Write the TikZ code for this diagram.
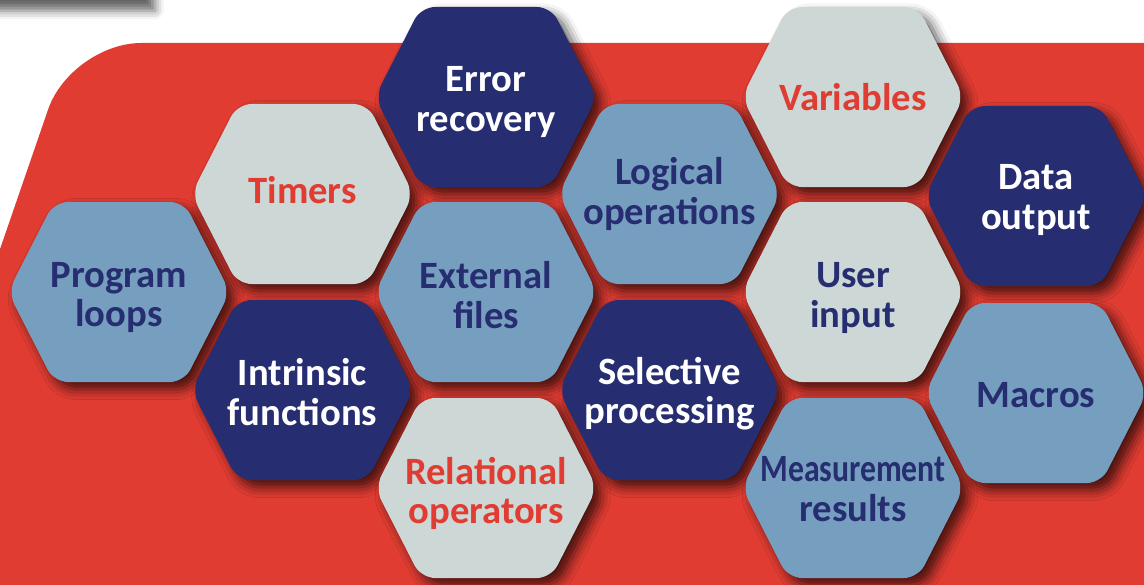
\documentclass[tikz,border=0pt]{standalone}
\usepackage{fontspec}
\setmainfont{Carlito}
\usepackage{graphicx}
\usetikzlibrary{shadows.blur}
\definecolor{bgred}{RGB}{224,60,50}
\definecolor{hexnavy}{RGB}{38,45,112}
\definecolor{hexsteel}{RGB}{118,159,191}
\definecolor{hexgray}{RGB}{204,215,214}
\begin{document}
\begin{tikzpicture}[line join=round, line cap=round]
            \tikzset{label style/.style={font=\fontsize{22}{22.5}\selectfont\bfseries, align=center, inner sep=0pt}}
            \tikzset{hex shadow/.style={blur shadow={shadow xshift=4pt, shadow yshift=-4pt, shadow blur radius=6pt, shadow opacity=70}}}
            \def \W{22.88}
            \def \H{11.68}
            \def \hw{2.22}
            \def \ha{1.3}
            \def \hh{1.8}
            \useasboundingbox (0,0) rectangle (\W,\H);
            \clip (0,0) rectangle (\W,\H);
            % shadow bar at the top left
            \fill[white, blur shadow={shadow xshift=0pt, shadow yshift=-6pt, shadow blur radius=5pt, shadow opacity=60}] (-1,\H) rectangle (3.1,12.5);
            % red background
            \fill[bgred] (24,10.82) [rounded corners=40pt] -- (1.42,10.82) -- (-2.65,-1) [sharp corners] -- (24,-1) -- cycle;
            % honeycomb
            \foreach \cx/\cy/\fc/\tc/\dy/\nm/\txt in {
                2.38/5.84/hexsteel/hexnavy/-0.11/prog/{Program\\loops},
                6.05/7.80/hexgray/bgred/0.08/timers/{Timers},
                6.05/3.88/hexnavy/white/-0.04/intr/{Intrinsic\\functions},
                9.72/9.74/hexnavy/white/-0.1/err/{Error\\recovery},
                9.72/5.84/hexsteel/hexnavy/-0.06/ext/{External\\files},
                9.72/1.92/hexgray/bgred/-0.11/rel/{Relational\\operators},
                13.39/7.80/hexsteel/hexnavy/0/logic/{Logical\\operations},
                13.39/3.88/hexnavy/white/-0.07/sel/{Selective\\processing},
                17.06/9.74/hexgray/bgred/0/vars/{Variables},
                17.06/5.84/hexgray/hexnavy/-0.12/user/{User\\input},
                17.06/1.92/hexsteel/hexnavy/-0.02/meas/{\scalebox{0.82}[1]{Measurement}\\results},
                20.72/7.76/hexnavy/white/-0.08/data/{Data\\output},
                20.72/3.82/hexsteel/hexnavy/-0.05/macros/{Macros}}
            {
            \fill[\fc, rounded corners=8pt, hex shadow] (\cx-\hw,\cy) -- (\cx-\ha,\cy+\hh) -- (\cx+\ha,\cy+\hh) -- (\cx+\hw,\cy) -- (\cx+\ha,\cy-\hh) -- (\cx-\ha,\cy-\hh) -- cycle;
            \node[label style, text=\tc] (\nm) at (\cx,\cy+\dy) {\txt};
            }
        \end{tikzpicture}
\end{document}
